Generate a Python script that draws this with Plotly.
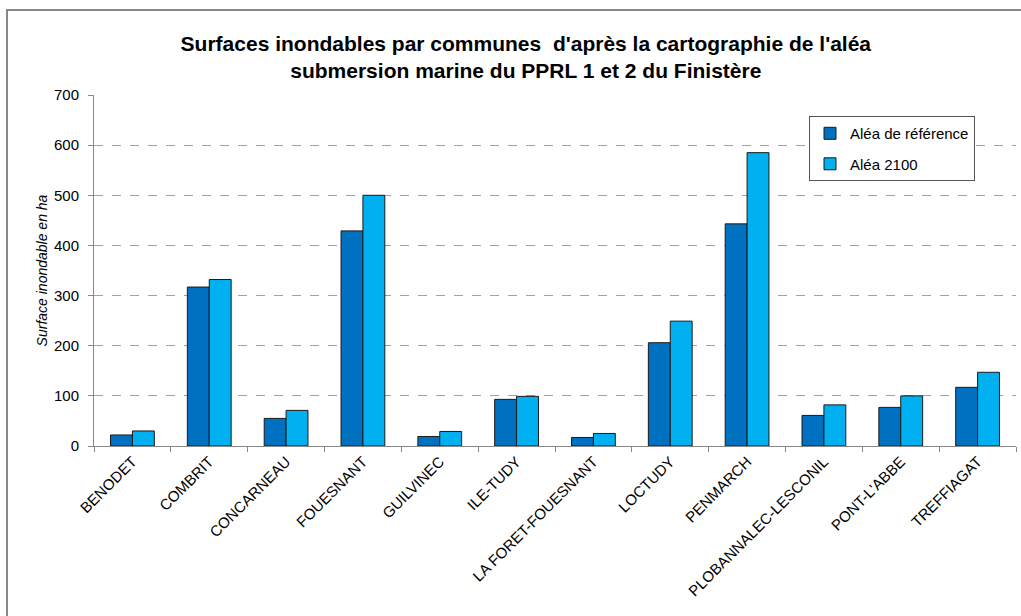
import plotly.graph_objects as go

communes = ["BENODET", "COMBRIT", "CONCARNEAU", "FOUESNANT", "GUILVINEC", "ILE-TUDY",
            "LA FORET-FOUESNANT", "LOCTUDY", "PENMARCH", "PLOBANNALEC-LESCONIL",
            "PONT-L'ABBE", "TREFFIAGAT"]
alea_reference = [22, 317, 55, 429, 19, 93, 17, 206, 443, 61, 77, 117]
alea_2100 = [30, 332, 71, 500, 29, 99, 25, 249, 585, 82, 100, 147]

y_ticks = [0, 100, 200, 300, 400, 500, 600, 700]

fig = go.Figure()
fig.add_trace(go.Bar(x=communes, y=alea_reference, name="Aléa de référence", legendgroup="a",
                     marker=dict(color="#0070C0", line=dict(color="#1a1a1a", width=1))))
fig.add_trace(go.Bar(x=communes, y=alea_2100, name="Aléa 2100", legendgroup="b",
                     marker=dict(color="#00B0F0", line=dict(color="#1a1a1a", width=1))))

fig.update_layout(
    width=1021, height=616,
    margin=dict(l=94, r=5, t=95, b=170),
    paper_bgcolor="white", plot_bgcolor="white",
    font=dict(family="Liberation Sans, Arial, sans-serif", color="black"),
    title=dict(text="<b>Surfaces inondables par communes  d'après la cartographie de l'aléa<br>submersion marine du PPRL 1 et 2 du Finistère</b>",
               x=0.515, xanchor="center", y=0.918, yanchor="middle",
               font=dict(size=21, family="Liberation Sans, Arial")),
    barmode="group", bargap=0.43, bargroupgap=0,
    showlegend=True,
    legend=dict(x=0.7755, y=0.94, xanchor="left", yanchor="top",
                bgcolor="white", bordercolor="#555555", borderwidth=1,
                font=dict(size=15), tracegroupgap=8, traceorder="grouped",
                itemwidth=30),
    xaxis=dict(showline=True, linecolor="#888888", linewidth=1,
               tickangle=-45, tickfont=dict(size=15),
               ticks="outside", tickson="boundaries", ticklen=5, tickcolor="#888888",
               showgrid=False),
    yaxis=dict(range=[0, 700], tickvals=y_ticks, showline=True, linecolor="#888888", linewidth=1,
               ticks="outside", ticklen=5, tickcolor="#888888", ticklabelstandoff=6,
               showgrid=True, gridcolor="#a0a0a0", griddash="dash", gridwidth=1,
               tickfont=dict(size=15),
               title=dict(text="<i>Surface inondable en ha</i>", font=dict(size=14), standoff=3),
               zeroline=False),
    shapes=[dict(type="rect", xref="paper", yref="paper",
                 x0=(7 - 94) / 922, x1=1.2, y0=-0.6, y1=(446 - 10) / 351,
                 line=dict(color="#888888", width=2), fillcolor="rgba(0,0,0,0)", layer="below")],
)

fig.write_html("out.html")
